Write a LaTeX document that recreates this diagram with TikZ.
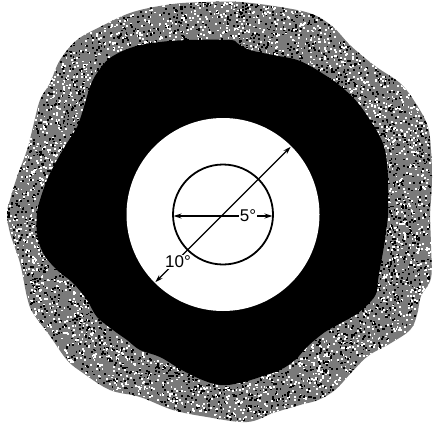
\documentclass[tikz,border=0pt]{standalone}
\usepackage{fontspec}
\setmainfont{Liberation Sans}
\usetikzlibrary{arrows.meta}
\begin{document}
\begin{tikzpicture}[x=1pt,y=-1pt,
  speckbase/.style={fill=black!52},
  blackband/.style={fill=black},
  fieldwhite/.style={fill=white},
  ringline/.style={line width=1.8pt},
  dimline/.style={line width=1.2pt,{Stealth[length=8pt,width=5pt]}-{Stealth[length=8pt,width=5pt]}},
  lab/.style={fill=white,inner sep=0.6pt,font=\fontsize{17}{17}\selectfont}]
\useasboundingbox (0,0) rectangle (438,428);
\fill[white] (0,0) rectangle (438,428);
\def\outerblob{plot[smooth cycle,tension=0.6] coordinates {
 (207,2) (240,2) (280,7) (312,14) (333,27) (351,46) (375,66) (401,84) (418,107)
 (428,127) (431,150) (432,177) (431,200) (430,215) (431,246) (431,278) (421,296)
 (417,315) (410,330) (391,343) (368,356) (351,373) (335,390) (318,400) (300,405)
 (273,413) (247,422) (207,417) (173,410) (140,397) (110,390) (83,373) (67,360)
 (50,336) (33,313) (27,297) (20,263) (10,233) (7,213) (10,200) (17,177) (27,150)
 (33,127) (40,100) (50,83) (60,60) (77,40) (100,27) (133,12) (173,4)}}
\path[speckbase] \outerblob;
\begin{scope}
 \clip \outerblob;
 \pgfmathsetseed{7}
 \foreach \i in {1,...,3600}{
   \pgfmathsetmacro\rr{158+72*rnd}
   \pgfmathsetmacro\aa{360*rnd}
   \fill[white] ({220+\rr*cos(\aa)},{213+\rr*sin(\aa)}) rectangle ++(1.8,1.8);
   \pgfmathsetmacro\rr{158+72*rnd}
   \pgfmathsetmacro\aa{360*rnd}
   \fill[black] ({220+\rr*cos(\aa)},{213+\rr*sin(\aa)}) rectangle ++(1.8,1.8);
 }
\end{scope}
\path[blackband] plot[smooth cycle,tension=0.6] coordinates {
 (190,40) (230,40) (237,43) (250,50) (273,55) (300,61) (328,77) (345,90) (358,103)
 (368,117) (378,133) (385,150) (388,177) (388,200) (388,215) (385,240) (381,263)
 (378,280) (375,296) (358,313) (341,323) (325,332) (308,346) (295,360) (280,370)
 (260,377) (240,383) (220,385) (200,379) (180,369) (160,357) (140,350) (127,340)
 (113,330) (97,317) (87,300) (73,283) (57,270) (43,253) (37,233) (37,213) (40,200)
 (47,180) (57,160) (67,143) (77,127) (83,110) (90,87) (97,73) (110,58) (133,47) (160,42)};
\coordinate (c) at (223,214.5);
\path[fieldwhite] (c) circle[radius=96.5];
\draw[ringline] (c) circle[radius=50];
\coordinate (hl) at (173.5,216);
\coordinate (hr) at (272.5,216);
\coordinate (dl) at (155.3,282.2);
\coordinate (du) at (290.7,146.8);
\draw[dimline] (hl) -- (hr);
\draw[dimline] (dl) -- (du);
\node[lab] (five) at (248,215.5) {5°};
\node[lab] (ten) at (178,262) {10°};
\end{tikzpicture}
\end{document}
